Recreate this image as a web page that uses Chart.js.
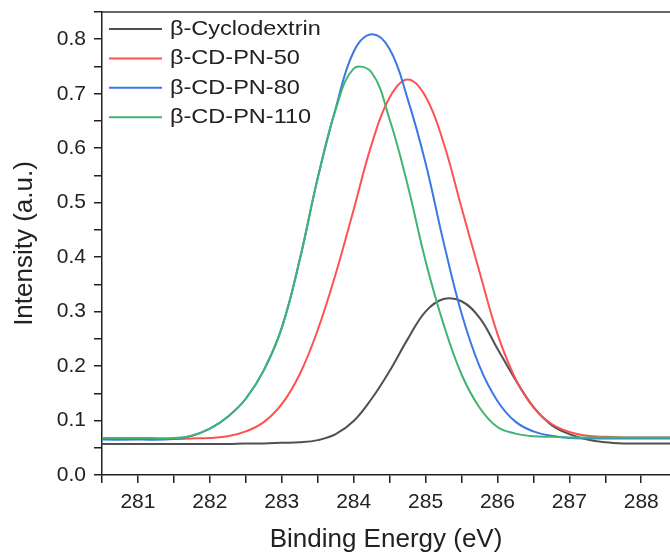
<!DOCTYPE html>
<html>
<head>
<meta charset="utf-8">
<script src="https://cdn.jsdelivr.net/npm/chart.js@4/dist/chart.umd.min.js"></script>
<style>
  body { margin: 0; background: #fff; }
  #box { width: 670px; height: 555px; }
</style>
</head>
<body>
<div id="box"><canvas id="xps" width="670" height="555"></canvas></div>
<script>
// binding energy (eV) shared by all four curves
var energies = [280.4, 281.0, 281.5, 281.75, 282.0, 282.25, 282.5, 282.75, 283.0, 283.25,
    283.5, 283.75, 284.0, 284.25, 284.5, 284.75, 285.0, 285.25, 285.5, 285.75,
    286.0, 286.25, 286.5, 286.75, 287.0, 287.25, 287.5, 287.75, 288.0, 288.6];

var cyclodextrin = [0.057, 0.057, 0.057, 0.057, 0.057, 0.057, 0.058, 0.058, 0.059, 0.060,
    0.064, 0.075, 0.099, 0.140, 0.191, 0.249, 0.300, 0.323, 0.319, 0.289,
    0.232, 0.175, 0.125, 0.092, 0.075, 0.065, 0.060, 0.058, 0.058, 0.058];
var pn50 = [0.066, 0.066, 0.066, 0.067, 0.068, 0.071, 0.080, 0.097, 0.130, 0.185,
    0.266, 0.369, 0.487, 0.607, 0.693, 0.726, 0.695, 0.610, 0.491, 0.373,
    0.259, 0.177, 0.124, 0.094, 0.079, 0.072, 0.070, 0.069, 0.069, 0.069];
var pn80 = [0.065, 0.065, 0.066, 0.072, 0.085, 0.107, 0.140, 0.192, 0.270, 0.395,
    0.545, 0.673, 0.777, 0.809, 0.782, 0.691, 0.573, 0.428, 0.297, 0.200,
    0.136, 0.098, 0.080, 0.072, 0.068, 0.067, 0.067, 0.067, 0.067, 0.067];
var pn110 = [0.068, 0.068, 0.068, 0.072, 0.085, 0.107, 0.140, 0.192, 0.270, 0.395,
    0.545, 0.671, 0.746, 0.739, 0.653, 0.533, 0.393, 0.277, 0.185, 0.124,
    0.088, 0.076, 0.071, 0.070, 0.069, 0.069, 0.069, 0.069, 0.069, 0.069];

var seriesNames = ['β-Cyclodextrin', 'β-CD-PN-50', 'β-CD-PN-80', 'β-CD-PN-110'];
var seriesColors = ['#505050', '#ff5151', '#3b78e4', '#3fb56f'];

var FONT = '"Liberation Sans", Arial, sans-serif';
var INK = '#222';

function pts(arr) {
    return energies.map(function (e, i) { return { x: e, y: arr[i] }; });
}

// legend drawn inside the plot, top-left, like the original
var innerLegend = {
    id: 'innerLegend',
    afterDraw: function (chart) {
        var ctx = chart.ctx;
        var area = chart.chartArea;
        ctx.save();
        ctx.font = '21px ' + FONT;
        ctx.textBaseline = 'middle';
        chart.data.datasets.forEach(function (ds, i) {
            var y = area.top + 17 + i * 29.4;
            ctx.strokeStyle = ds.borderColor;
            ctx.lineWidth = 2;
            ctx.beginPath();
            ctx.moveTo(area.left + 7, y);
            ctx.lineTo(area.left + 60, y);
            ctx.stroke();
            ctx.save();
            ctx.translate(area.left + 68, y);
            ctx.scale(1.12, 1); // legend lettering is a bit wider in the original
            ctx.fillStyle = INK;
            ctx.fillText(ds.label, 0, 0);
            ctx.restore();
        });
        // top frame line
        ctx.strokeStyle = '#333';
        ctx.lineWidth = 1.5;
        ctx.beginPath();
        ctx.moveTo(area.left, area.top);
        ctx.lineTo(area.right, area.top);
        ctx.stroke();
        ctx.restore();
    }
};

var chart = new Chart(document.getElementById('xps').getContext('2d'), {
    type: 'line',
    data: {
        datasets: [
            { label: seriesNames[0], data: pts(cyclodextrin), borderColor: seriesColors[0], order: 3 },
            { label: seriesNames[1], data: pts(pn50), borderColor: seriesColors[1], order: 2 },
            { label: seriesNames[2], data: pts(pn80), borderColor: seriesColors[2], order: 1 },
            { label: seriesNames[3], data: pts(pn110), borderColor: seriesColors[3], order: 0 }
        ]
    },
    options: {
        responsive: false,
        animation: false,
        layout: { padding: { top: 12, right: 0, left: 0, bottom: 0 } },
        elements: {
            line: { borderWidth: 2, fill: false, tension: 0.4 },
            point: { radius: 0 }
        },
        plugins: { legend: { display: false }, tooltip: { enabled: false } },
        scales: {
            x: {
                type: 'linear',
                min: 280.5,
                max: 288.4,
                afterFit: function (s) { s.height = 80; s.paddingLeft = 0; s.paddingRight = 0; },
                border: { color: INK, width: 1.5 },
                grid: { drawOnChartArea: false, drawTicks: true, tickLength: 8, color: INK, lineWidth: 1.5 },
                ticks: {
                    stepSize: 0.5,
                    includeBounds: false,
                    autoSkip: false,
                    maxRotation: 0,
                    padding: 7,
                    color: INK,
                    font: { family: FONT, size: 21 },
                    callback: function (v) {
                        var t = Math.round(v * 10);
                        return (t % 10 === 0 && t >= 2810 && t <= 2880) ? String(t / 10) : '';
                    }
                },
                title: {
                    display: true,
                    text: 'Binding Energy (eV)',
                    color: INK,
                    font: { family: FONT, size: 26 },
                    padding: { top: 0, bottom: 0 }
                }
            },
            y: {
                min: 0,
                max: 0.85,
                afterFit: function (s) { s.width = 102; s.paddingTop = 0; s.paddingBottom = 0; },
                border: { color: INK, width: 1.5 },
                grid: { drawOnChartArea: false, drawTicks: true, tickLength: 8, color: INK, lineWidth: 1.5 },
                ticks: {
                    stepSize: 0.05,
                    autoSkip: false,
                    padding: 8,
                    color: INK,
                    font: { family: FONT, size: 21 },
                    callback: function (v) {
                        var t = Math.round(v * 100);
                        return (t % 10 === 0 && t <= 80) ? (t / 100).toFixed(1) : '';
                    }
                },
                title: {
                    display: true,
                    text: 'Intensity (a.u.)',
                    color: INK,
                    font: { family: FONT, size: 26 },
                    padding: { top: 9, bottom: 0 }
                }
            }
        }
    },
    plugins: [innerLegend]
});
</script>
</body>
</html>
